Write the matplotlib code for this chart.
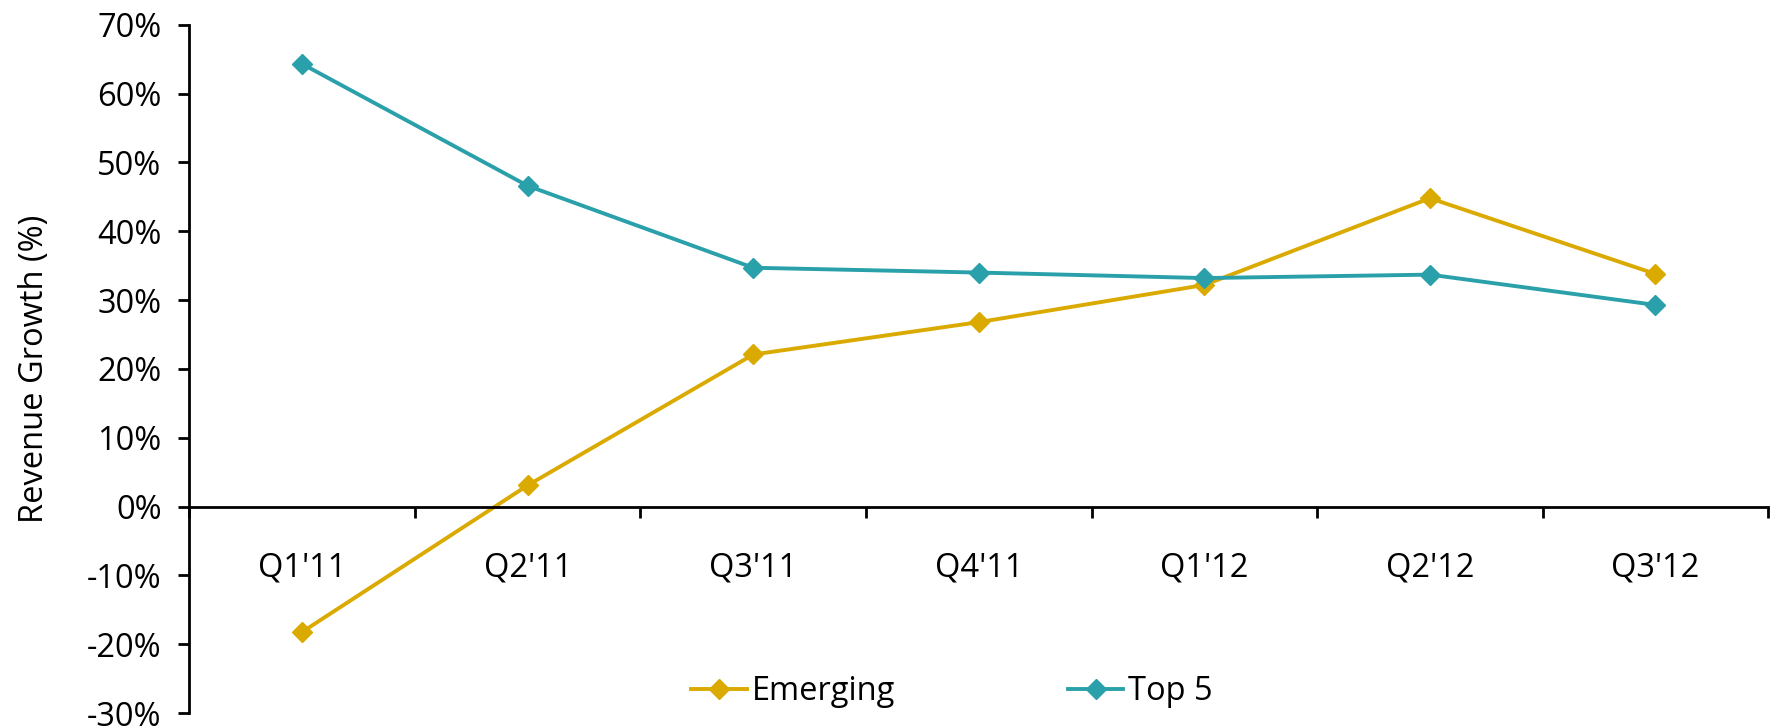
import numpy as np
import matplotlib.pyplot as plt
from matplotlib.ticker import FuncFormatter

# Datos
trimestres = ["Q1'11", "Q2'11", "Q3'11", "Q4'11", "Q1'12", "Q2'12", "Q3'12"]
emerging = [-18.2, 3.1, 22.1, 26.8, 32.2, 44.8, 33.8]
top5 = [64.3, 46.6, 34.7, 34.0, 33.2, 33.7, 29.3]

plt.rcParams['font.family'] = ['Open Sans', 'DejaVu Sans']
fs = 23.5

fig = plt.figure(figsize=(17.7, 7.27), dpi=100)
ax = fig.add_axes([0.107, 0.019, 0.892, 0.947])

x = np.arange(len(trimestres))
ax.plot(x, emerging, color='#DBAA00', lw=2.8, marker='D', markersize=10, label='Emerging')
ax.plot(x, top5, color='#2AA0AA', lw=2.8, marker='D', markersize=10, label='Top 5')

ax.set_xlim(-0.5, len(trimestres) - 0.5)
ax.set_ylim(-30, 70)
ax.set_yticks(np.arange(-30, 71, 10))
ax.yaxis.set_major_formatter(FuncFormatter(lambda v, p: f"{v:.0f}%"))

# Eje x en el cero, marcas entre categorias
ax.spines['bottom'].set_position(('data', 0))
ax.spines['top'].set_visible(False)
ax.spines['right'].set_visible(False)
ax.spines['left'].set_linewidth(2)
ax.spines['bottom'].set_linewidth(2)
ax.set_xticks(np.arange(-0.5, len(trimestres), 1))
ax.set_xticklabels([])
ax.set_xticks(x, minor=True)
ax.set_xticklabels(trimestres, minor=True)
ax.tick_params(axis='x', which='major', direction='out', length=8, width=2)
ax.tick_params(axis='x', which='minor', length=0, pad=32, labelsize=fs)
ax.tick_params(axis='y', direction='out', length=8, width=2, labelsize=fs, pad=12)

ax.set_ylabel('Revenue Growth (%)', fontsize=fs, labelpad=26)

ax.legend(loc='center', bbox_to_anchor=(0.483, 0.031), ncol=2, frameon=False,
          fontsize=fs, handlelength=1.7, handletextpad=0.15, columnspacing=5.3)

fig.savefig('out.png', dpi=100)
